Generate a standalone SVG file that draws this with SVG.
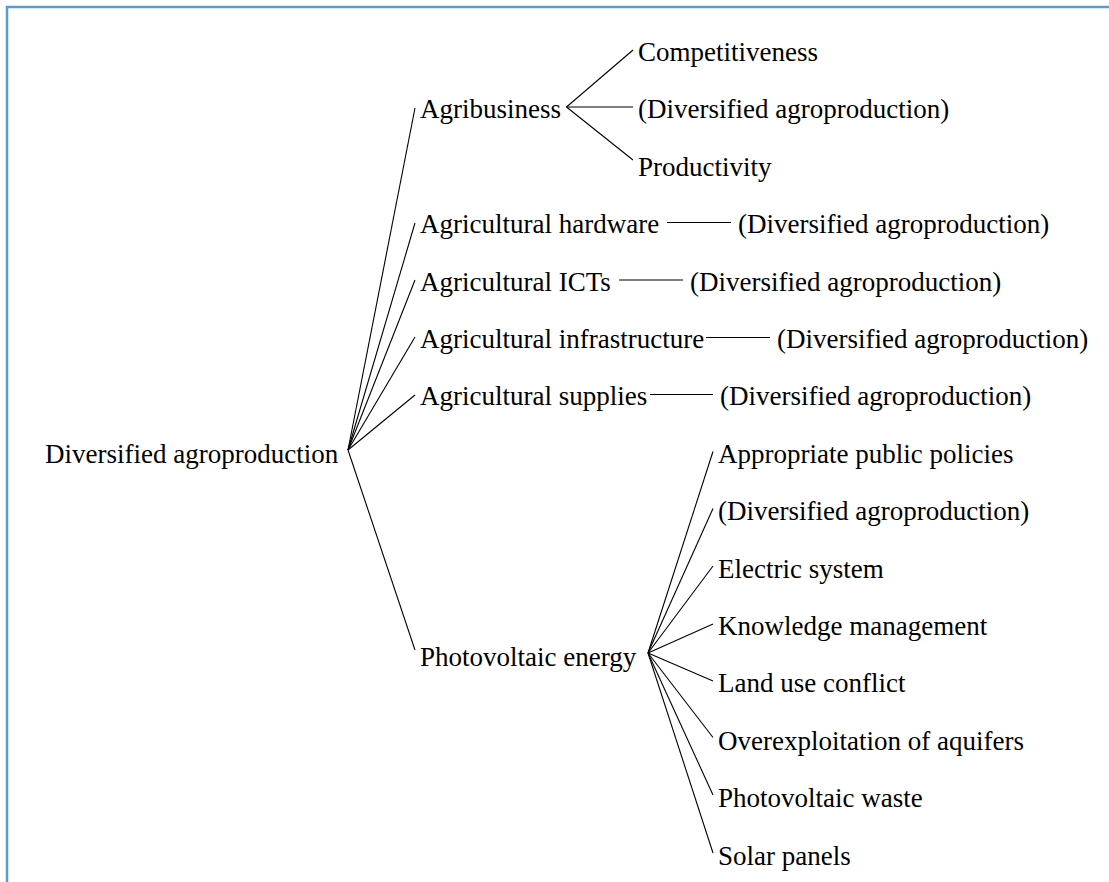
<svg xmlns="http://www.w3.org/2000/svg" width="1109" height="882" viewBox="0 0 1109 882">
<style>
text { font-family: "Liberation Serif", "Tinos", "Times New Roman", "DejaVu Serif", serif; font-size: 27px; fill: #000; }
.c line { stroke: #000; stroke-width: 1.1; }
.frame { stroke: #5B9BD5; stroke-width: 2.5; fill: none; }
</style>
<rect x="0" y="0" width="1109" height="882" fill="#fff"/>
<path class="frame" d="M7 882 V7 H1109"/>
<g class="c" id="connectors">
  <line x1="348" y1="450" x2="415" y2="108"/>
  <line x1="348" y1="450" x2="415" y2="223"/>
  <line x1="348" y1="450" x2="415" y2="280"/>
  <line x1="348" y1="450" x2="415" y2="337"/>
  <line x1="348" y1="450" x2="415" y2="395"/>
  <line x1="348" y1="450" x2="415" y2="650"/>
  <line x1="566.5" y1="107" x2="633" y2="50"/>
  <line x1="566.5" y1="107" x2="633" y2="107"/>
  <line x1="566.5" y1="107" x2="633" y2="160"/>
  <line x1="667" y1="222.5" x2="731" y2="222.5"/>
  <line x1="619" y1="280" x2="683" y2="280"/>
  <line x1="706" y1="337.5" x2="770" y2="337.5"/>
  <line x1="650" y1="394.5" x2="713" y2="394.5"/>
  <line x1="648" y1="653" x2="713" y2="451.5"/>
  <line x1="648" y1="653" x2="713" y2="508.5"/>
  <line x1="648" y1="653" x2="713" y2="566"/>
  <line x1="648" y1="653" x2="713" y2="624"/>
  <line x1="648" y1="653" x2="713" y2="681"/>
  <line x1="648" y1="653" x2="713" y2="737.5"/>
  <line x1="648" y1="653" x2="713" y2="795"/>
  <line x1="648" y1="653" x2="713" y2="853"/>
</g>
<g id="root"><text x="45" y="463">Diversified agroproduction</text></g>
<g id="agribusiness"><text x="420" y="118.4">Agribusiness</text></g>
<g id="competitiveness"><text x="638" y="61">Competitiveness</text></g>
<g id="agri-div"><text x="638" y="118.4">(Diversified agroproduction)</text></g>
<g id="productivity"><text x="638" y="175.8">Productivity</text></g>
<g id="hardware"><text x="420" y="233.2">Agricultural hardware</text></g>
<g id="hardware-div"><text x="738" y="233.2">(Diversified agroproduction)</text></g>
<g id="icts"><text x="420" y="290.6">Agricultural ICTs</text></g>
<g id="icts-div"><text x="690" y="290.6">(Diversified agroproduction)</text></g>
<g id="infrastructure"><text x="420" y="348">Agricultural infrastructure</text></g>
<g id="infrastructure-div"><text x="777" y="348">(Diversified agroproduction)</text></g>
<g id="supplies"><text x="420" y="405.4">Agricultural supplies</text></g>
<g id="supplies-div"><text x="720" y="405.4">(Diversified agroproduction)</text></g>
<g id="photovoltaic"><text x="420" y="666">Photovoltaic energy</text></g>
<g id="policies"><text x="718" y="462.8">Appropriate public policies</text></g>
<g id="pv-div"><text x="718" y="520.2">(Diversified agroproduction)</text></g>
<g id="electric"><text x="718" y="577.6">Electric system</text></g>
<g id="knowledge"><text x="718" y="635">Knowledge management</text></g>
<g id="landuse"><text x="718" y="692.4">Land use conflict</text></g>
<g id="aquifers"><text x="718" y="749.8">Overexploitation of aquifers</text></g>
<g id="waste"><text x="718" y="807.2">Photovoltaic waste</text></g>
<g id="solar"><text x="718" y="864.6">Solar panels</text></g>
</svg>
